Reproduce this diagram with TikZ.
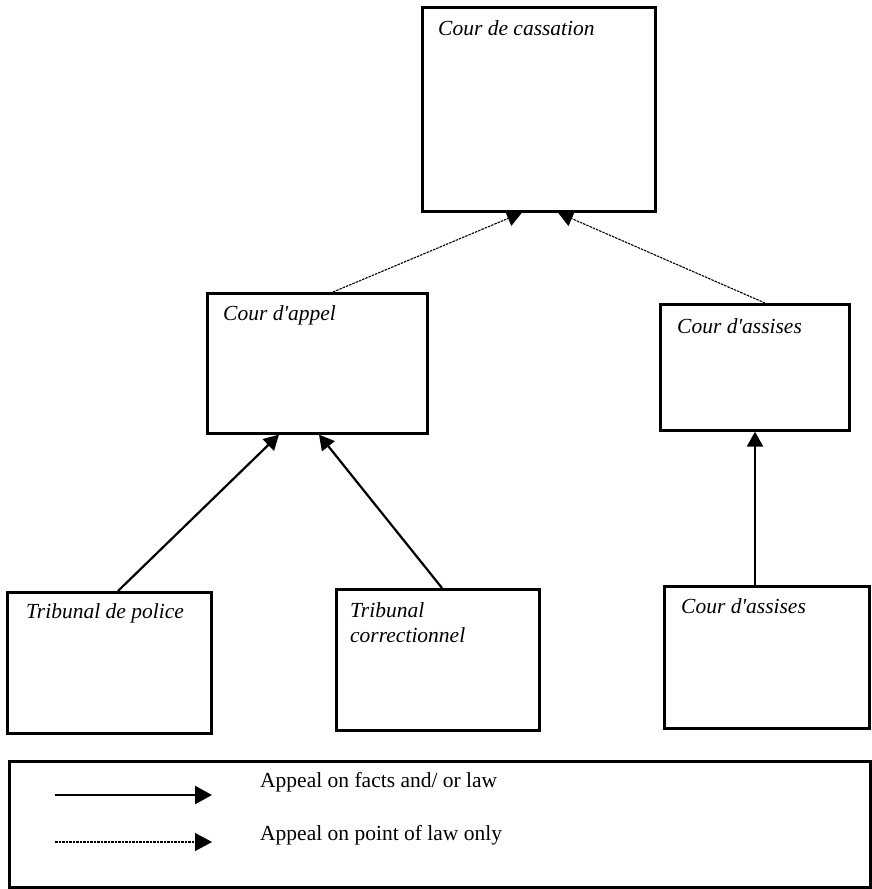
\documentclass[tikz,border=0pt]{standalone}
\usepackage{fontspec}
\setmainfont{Liberation Serif}
\usetikzlibrary{arrows.meta,calc}
\newcommand{\apos}{\XeTeXglyph\XeTeXcharglyph"27\relax}
\begin{document}
\begin{tikzpicture}[x=1pt,y=-1pt,
  court/.style={draw=black, line width=2.6pt, rectangle, inner sep=0pt, anchor=north west},
  lbl/.style={font=\fontsize{21.5}{25}\selectfont\itshape, anchor=base west, inner sep=0pt},
  leg/.style={font=\fontsize{21.5}{25}\selectfont, anchor=base west, inner sep=0pt},
  factarrow/.style={line width=2.2pt, -{Triangle[length=15pt,width=16pt]}},
  lawarrow/.style={line width=1.1pt, black, dash pattern=on 2.5pt off 1pt, -{Triangle[length=15pt,width=16pt]}},
  legfact/.style={line width=2.4pt, -{Triangle[length=17pt,width=18pt]}},
  leglaw/.style={line width=1.2pt, black, dash pattern=on 2.5pt off 1pt, -{Triangle[length=17pt,width=18pt]}}
]
\useasboundingbox (0,0) rectangle (871,889);
% courts
\node[court, minimum width=233pt, minimum height=204pt] (cass) at (421,6) {};
\node[lbl] (cassT) at (438,35) {Cour de cassation};
\node[court, minimum width=220pt, minimum height=140pt] (appel) at (206,292) {};
\node[lbl] (appelT) at (223,320) {Cour d\apos appel};
\node[court, minimum width=189pt, minimum height=126pt] (assM) at (659,303) {};
\node[lbl] (assMT) at (677,333) {Cour d\apos assises};
\node[court, minimum width=204pt, minimum height=141pt] (police) at (6,591) {};
\node[lbl] (policeT) at (26,618) {Tribunal de police};
\node[court, minimum width=203pt, minimum height=141pt] (corr) at (335,588) {};
\node[lbl] (corrT1) at (350,617) {Tribunal};
\node[lbl] (corrT2) at (350,642) {correctionnel};
\node[court, minimum width=205pt, minimum height=142pt] (assB) at (663,585) {};
\node[lbl] (assBT) at (681,613) {Cour d\apos assises};
% connectors
\draw[factarrow] ([xshift=112pt]police.north west) -- ([xshift=73pt]appel.south west);
\draw[factarrow] ([xshift=107pt]corr.north west) -- ([xshift=113pt]appel.south west);
\draw[factarrow] ([xshift=92pt]assB.north west) -- ([xshift=96pt]assM.south west);
\draw[lawarrow] ([xshift=127pt]appel.north west) -- ([xshift=101pt]cass.south west);
\draw[lawarrow] ([xshift=106pt]assM.north west) -- ([xshift=137pt]cass.south west);
% legend
\node[court, minimum width=861pt, minimum height=126pt] (legend) at (8,760) {};
\coordinate (l1a) at (55,795);
\coordinate (l1b) at (212,795);
\coordinate (l2a) at (55,842);
\coordinate (l2b) at (212,842);
\draw[legfact] (l1a) -- (l1b);
\draw[leglaw] (l2a) -- (l2b);
\node[leg] (leg1) at (260,787) {Appeal on facts and/ or law};
\node[leg] (leg2) at (260,840) {Appeal on point of law only};
\end{tikzpicture}
\end{document}
